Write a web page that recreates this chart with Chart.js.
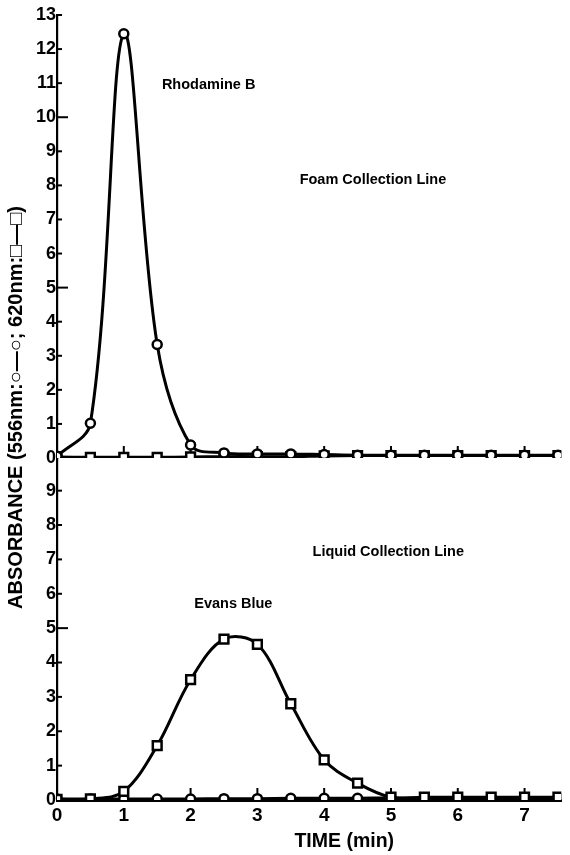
<!DOCTYPE html>
<html>
<head>
<meta charset="utf-8">
<script src="https://cdn.jsdelivr.net/npm/chart.js@4.4.1/dist/chart.umd.min.js"></script>
<style>
  html, body { margin: 0; padding: 0; background: #ffffff; }
  #wrap { width: 570px; height: 855px; position: relative; }
</style>
</head>
<body>
<div id="wrap"><canvas id="chart" width="570" height="855"></canvas></div>
<script>
// ---- data ----
const timeMin = [0, 0.5, 1, 1.5, 2, 2.5, 3, 3.5, 4, 4.5, 5, 5.5, 6, 6.5, 7, 7.5];

// Foam collection line (upper panel)
const foam556 = [0.05, 1.02, 12.45, 3.33, 0.38, 0.15, 0.12, 0.12, 0.10, 0.08, 0.08, 0.08, 0.08, 0.08, 0.08, 0.08];
const foam620 = [0.03, 0.02, 0.02, 0.02, 0.03, 0.04, 0.04, 0.04, 0.06, 0.07, 0.07, 0.07, 0.07, 0.07, 0.07, 0.07];

// Liquid collection line (lower panel)
const liquid620 = [0.02, 0.03, 0.25, 1.58, 3.5, 4.68, 4.53, 2.8, 1.17, 0.49, 0.08, 0.08, 0.08, 0.08, 0.08, 0.08];
const liquid556 = [0.03, 0.03, 0.03, 0.03, 0.03, 0.04, 0.04, 0.05, 0.05, 0.05, 0.06, 0.06, 0.06, 0.06, 0.06, 0.06];

// tick labels
const xTickValues = [0, 1, 2, 3, 4, 5, 6, 7];
const foamTickValues = [0, 1, 2, 3, 4, 5, 6, 7, 8, 9, 10, 11, 12, 13];
const liquidTickValues = [0, 1, 2, 3, 4, 5, 6, 7, 8, 9];

const yTitleText = 'ABSORBANCE (556nm:○—○; 620nm:□—□)';
const xTitleText = 'TIME (min)';

// panel annotations (text, panel, x in min, y in absorbance)
const annotations = [
  { text: 'Rhodamine B', panel: 'yTop', x: 2.27, y: 10.94 },
  { text: 'Foam Collection Line', panel: 'yTop', x: 4.73, y: 8.16 },
  { text: 'Liquid Collection Line', panel: 'yBot', x: 4.96, y: 7.21 },
  { text: 'Evans Blue', panel: 'yBot', x: 2.64, y: 5.70 }
];
// x-axis title position (in minutes) along the axis
const xTitleAt = 4.3;

const FONT = '"Liberation Sans", Arial, Helvetica, sans-serif';

function toPoints(xs, ys) { return xs.map((x, i) => ({ x: x, y: ys[i] })); }

function lineDataset(label, values, yAxisID, style) {
  return {
    label: label,
    data: toPoints(timeMin, values),
    xAxisID: 'x',
    yAxisID: yAxisID,
    borderColor: '#000',
    borderWidth: 3,
    tension: 0.35,
    pointStyle: style,
    pointRadius: style === 'rect' ? 6.2 : 4.5,
    pointBorderWidth: 2.5,
    pointBorderColor: '#000',
    pointBackgroundColor: '#fff',
    fill: false
  };
}

const innerTicks = {
  id: 'innerTicks',
  beforeDatasetsDraw(chart) {
    const ctx = chart.ctx;
    const xs = chart.scales.x, yT = chart.scales.yTop, yB = chart.scales.yBot;
    ctx.save();
    ctx.strokeStyle = '#000';
    ctx.lineWidth = 2;
    const seg = (x1, y1, x2, y2) => { ctx.beginPath(); ctx.moveTo(x1, y1); ctx.lineTo(x2, y2); ctx.stroke(); };
    [[yT, foamTickValues], [yB, liquidTickValues]].forEach(([sc, vals]) => {
      vals.forEach(v => {
        if (v === 0) return;
        const py = sc.getPixelForValue(v);
        const len = (v % 5 === 0) ? 11 : 5;
        seg(sc.right, py, sc.right + len, py);
      });
    });
    xTickValues.forEach(v => {
      if (v === 0) return;
      const px = xs.getPixelForValue(v);
      [yT, yB].forEach(sc => {
        const py = sc.getPixelForValue(0);
        seg(px, py, px, py - 12);
      });
    });
    ctx.restore();
  },
  afterDatasetsDraw(chart) {
    const ctx = chart.ctx;
    ctx.save();
    ctx.fillStyle = '#000';
    ctx.font = 'bold 14.5px ' + FONT;
    ctx.textAlign = 'center';
    ctx.textBaseline = 'middle';
    annotations.forEach(a => {
      const px = chart.scales.x.getPixelForValue(a.x);
      const py = chart.scales[a.panel].getPixelForValue(a.y);
      ctx.fillText(a.text, px, py);
    });
    // x axis title
    const xs = chart.scales.x;
    ctx.font = 'bold 19.5px ' + FONT;
    ctx.fillText(xTitleText, xs.getPixelForValue(xTitleAt), xs.bottom - 13);
    ctx.restore();
  }
};

const yTickFont = { family: FONT, size: 18, weight: 'bold' };

new Chart(document.getElementById('chart'), {
  type: 'line',
  data: {
    datasets: [
      lineDataset('Foam 556 nm (Rhodamine B)', foam556, 'yTop', 'circle'),
      lineDataset('Foam 620 nm', foam620, 'yTop', 'rect'),
      lineDataset('Liquid 620 nm (Evans Blue)', liquid620, 'yBot', 'rect'),
      lineDataset('Liquid 556 nm', liquid556, 'yBot', 'circle')
    ]
  },
  options: {
    responsive: false,
    animation: false,
    layout: { padding: { top: 15, right: 1, bottom: 0, left: 0 } },
    plugins: { legend: { display: false }, tooltip: { enabled: false } },
    scales: {
      x: {
        type: 'linear',
        position: 'bottom',
        min: 0,
        max: 7.55,
        afterFit(s) { s.height = 55; },
        grid: { display: false, drawTicks: false, tickLength: 0 },
        border: { display: true, color: '#000', width: 3 },
        ticks: {
          stepSize: 1,
          includeBounds: false,
          autoSkip: false,
          color: '#000',
          padding: 4,
          maxRotation: 0,
          font: { family: FONT, size: 19, weight: 'bold' }
        },
        title: { display: false }
      },
      yTitle: {
        type: 'linear',
        position: 'left',
        weight: 2,
        display: true,
        min: 0,
        max: 1,
        afterFit(s) { s.width = 30; },
        grid: { display: false, drawTicks: false, tickLength: 0 },
        border: { display: false },
        ticks: { display: false },
        title: {
          display: true,
          text: yTitleText,
          color: '#000',
          font: { family: FONT, size: 20, weight: 'bold' },
          padding: { top: 4, bottom: 0 }
        }
      },
      yTop: {
        type: 'linear',
        position: 'left',
        stack: 'panels',
        stackWeight: 443,
        weight: 1,
        min: 0,
        max: 13,
        afterFit(s) { s.width = 27; },
        grid: { display: false, drawTicks: false, tickLength: 0 },
        border: { display: true, color: '#000', width: 2.2 },
        ticks: { stepSize: 1, includeBounds: false, autoSkip: false, color: '#000', padding: 1, font: yTickFont }
      },
      yBot: {
        type: 'linear',
        position: 'left',
        stack: 'panels',
        stackWeight: 342,
        weight: 0,
        min: 0,
        max: 9.95,
        afterFit(s) { s.width = 27; },
        grid: { display: false, drawTicks: false, tickLength: 0 },
        border: { display: true, color: '#000', width: 2.2 },
        ticks: { stepSize: 1, includeBounds: false, autoSkip: false, color: '#000', padding: 1, font: yTickFont }
      }
    }
  },
  plugins: [innerTicks]
});
</script>
</body>
</html>
